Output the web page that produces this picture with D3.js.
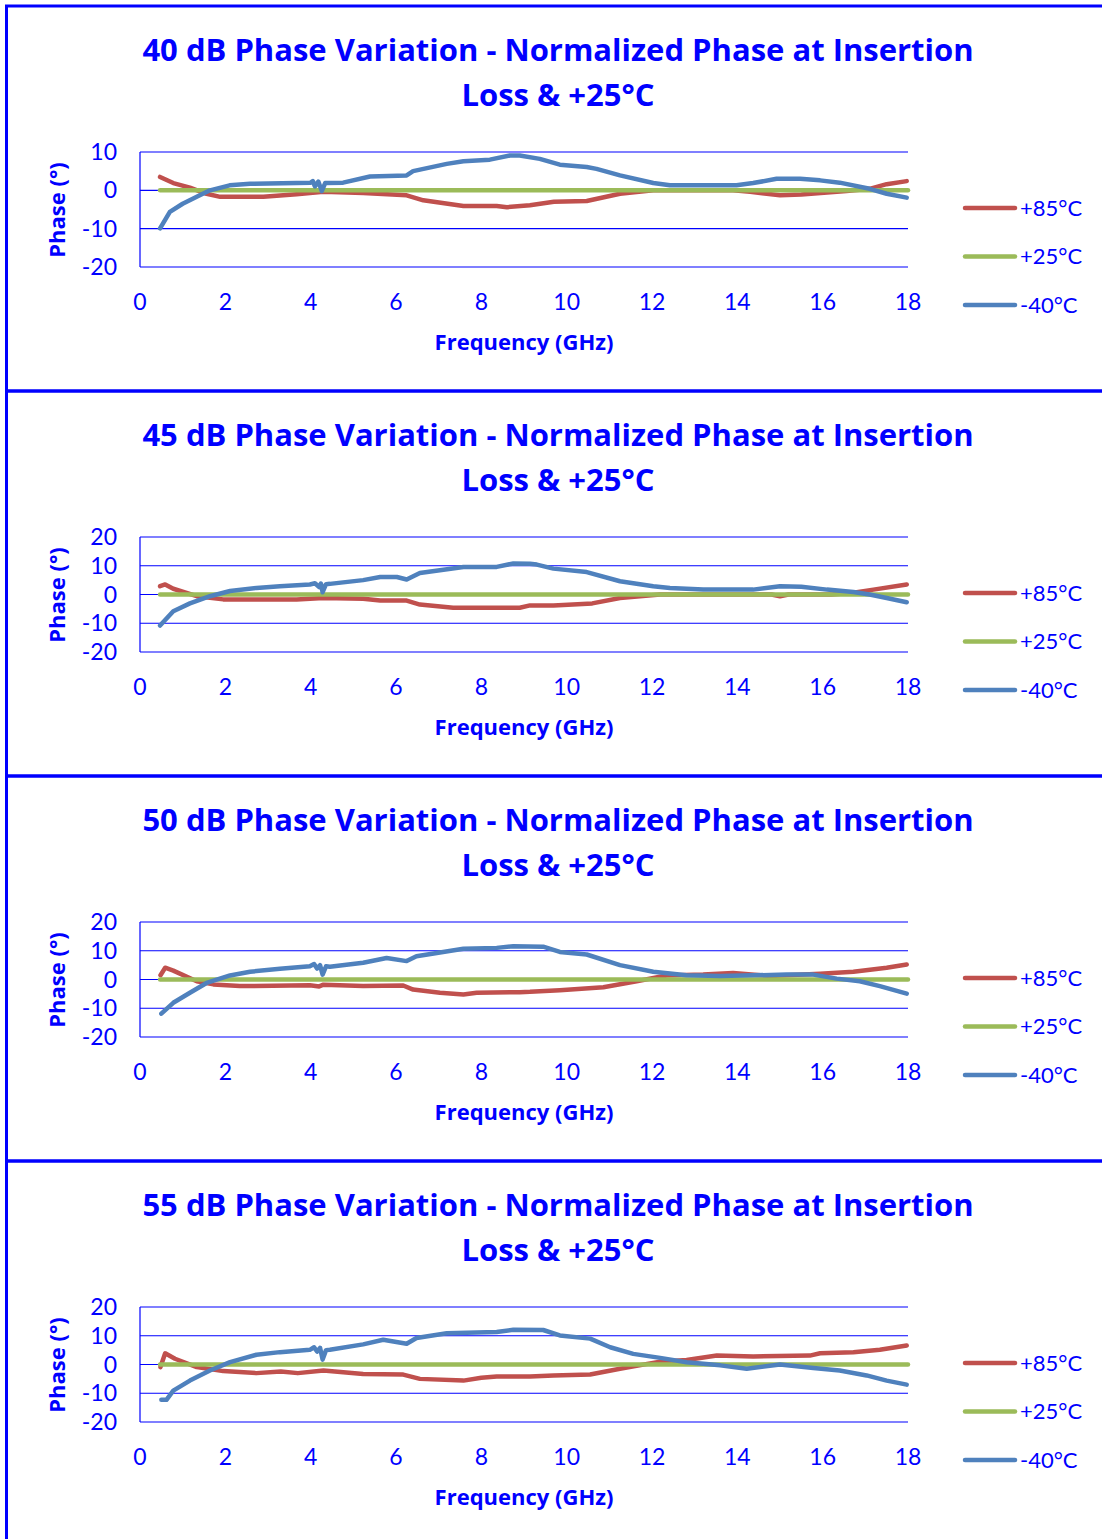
<!DOCTYPE html>
<html>
<head>
<meta charset="utf-8">
<script src="https://d3js.org/d3.v7.min.js"></script>
<style>
  body { margin: 0; background: #fff; }
  svg { display: block; }
</style>
</head>
<body>
<svg id="chart" width="1102" height="1539"></svg>
<script>
// Values (frequency in GHz, phase in degrees)
const titles = ['40 dB', '45 dB', '50 dB', '55 dB'];
const xTicks = [0, 2, 4, 6, 8, 10, 12, 14, 16, 18];
const yTicks40 = [-20, -10, 0, 10];
const yTicksOther = [-20, -10, 0, 10, 20];
const legendNames = ['+85°C', '+25°C', '-40°C'];

const ref25 = [[0.47, 0], [18, 0]];

const hot40 = [[0.47,3.5],[0.78,1.9],[1.17,0.7],[1.56,-0.9],[1.88,-1.7],[2.89,-1.7],[3.67,-1.0],[4.3,-0.4],[5.23,-0.7],[6.25,-1.3],[6.64,-2.6],[7.58,-4.1],[8.36,-4.1],[8.6,-4.4],[9.14,-3.9],[9.7,-3.0],[10.47,-2.8],[11.25,-0.9],[12.03,0],[13.9,0],[14.3,-0.4],[15.0,-1.3],[15.5,-1.1],[16.56,-0.2],[17.1,0.4],[17.5,1.6],[17.97,2.4]];
const cold40 = [[0.47,-9.9],[0.7,-5.6],[1.0,-3.5],[1.33,-1.7],[1.64,0],[2.1,1.3],[2.58,1.7],[4.0,2.0],[4.05,2.4],[4.1,1.0],[4.18,2.3],[4.26,-0.2],[4.34,1.9],[4.76,2.0],[5.39,3.6],[6.25,3.9],[6.4,5.0],[7.19,6.9],[7.58,7.6],[8.2,8.0],[8.67,9.1],[8.9,9.1],[9.37,8.2],[9.84,6.7],[10.47,6.1],[10.7,5.6],[11.25,3.9],[12.03,1.9],[12.42,1.3],[13.98,1.3],[14.37,1.9],[14.92,3.0],[15.47,3.0],[15.94,2.6],[16.4,2.0],[17.1,0.4],[17.5,-0.9],[17.97,-1.9]];

const hot45 = [[0.47,2.9],[0.59,3.5],[0.78,2.0],[1.33,-0.6],[1.95,-1.7],[3.67,-1.7],[4.3,-1.2],[5.23,-1.5],[5.63,-2.1],[6.25,-2.1],[6.56,-3.5],[7.34,-4.6],[8.9,-4.6],[9.14,-3.8],[9.69,-3.8],[10.6,-3.1],[11.25,-1.2],[12.19,0],[14.8,0],[15.0,-0.6],[15.2,0],[16.2,0],[16.72,0.6],[17.19,1.7],[17.97,3.5]];
const cold45 = [[0.47,-10.8],[0.78,-5.8],[1.17,-3.1],[1.64,-0.6],[2.11,1.2],[2.73,2.3],[3.28,2.9],[3.98,3.5],[4.1,3.9],[4.2,2.6],[4.24,3.8],[4.28,0.8],[4.36,3.6],[4.45,3.7],[5.23,5.0],[5.63,6.1],[6.02,6.1],[6.25,5.2],[6.56,7.5],[7.58,9.6],[8.36,9.6],[8.75,10.8],[9.14,10.7],[9.3,10.4],[9.69,9.0],[10.47,7.8],[11.25,4.6],[12.03,2.9],[12.42,2.3],[13.2,1.7],[14.37,1.7],[15.0,2.9],[15.5,2.7],[16.1,1.7],[16.72,0.9],[17.1,0],[17.5,-1.2],[17.97,-2.7]];

const hot50 = [[0.48,1.5],[0.59,4.1],[0.78,3.1],[1.33,-0.6],[1.72,-1.7],[2.34,-2.3],[3.98,-2.0],[4.2,-2.4],[4.3,-1.8],[5.23,-2.3],[6.17,-2.1],[6.4,-3.5],[7.03,-4.6],[7.58,-5.2],[7.89,-4.6],[8.9,-4.4],[9.14,-4.3],[9.84,-3.7],[10.86,-2.7],[11.64,-0.6],[12.34,1.4],[13.2,1.7],[13.9,2.3],[14.77,1.2],[15.94,2.0],[16.72,2.7],[17.5,4.1],[17.97,5.2]];
const cold50 = [[0.5,-11.9],[0.78,-8.1],[1.17,-4.6],[1.56,-1.2],[2.11,1.4],[2.58,2.7],[3.28,3.7],[3.98,4.6],[4.08,5.4],[4.15,3.8],[4.22,5.0],[4.28,1.7],[4.36,4.6],[4.45,4.4],[5.23,5.8],[5.78,7.5],[6.25,6.4],[6.48,8.1],[7.58,10.7],[8.36,11.0],[8.75,11.6],[9.45,11.4],[9.84,9.6],[10.47,8.7],[11.25,5.0],[12.03,2.7],[12.81,1.5],[13.6,1.2],[15.16,1.7],[15.78,1.7],[16.33,0.3],[16.87,-0.6],[17.34,-2.3],[17.97,-4.9]];

const hot55 = [[0.48,-0.9],[0.59,3.9],[0.82,2.0],[1.33,-0.9],[1.95,-2.3],[2.73,-3.0],[3.3,-2.4],[3.7,-3.0],[4.3,-2.1],[5.23,-3.3],[6.17,-3.5],[6.56,-5.0],[7.58,-5.6],[8.0,-4.6],[8.36,-4.2],[9.14,-4.2],[9.69,-3.8],[10.55,-3.5],[11.25,-1.5],[12.19,1.0],[12.81,1.6],[13.52,3.1],[14.37,2.8],[15.7,3.1],[15.94,3.9],[16.72,4.3],[17.34,5.1],[17.97,6.6]];
const cold55 = [[0.5,-12.3],[0.62,-12.3],[0.78,-9.1],[1.17,-5.6],[1.64,-2.1],[2.11,0.8],[2.73,3.4],[3.28,4.3],[3.98,5.1],[4.08,6.0],[4.15,4.5],[4.22,5.8],[4.28,1.7],[4.36,5.0],[4.45,5.1],[5.23,7.0],[5.7,8.6],[6.25,7.2],[6.48,9.2],[7.19,10.9],[8.36,11.3],[8.75,12.1],[9.45,12.0],[9.84,10.1],[10.55,9.0],[11.02,6.0],[11.56,3.7],[12.19,2.3],[12.81,0.8],[13.6,-0.3],[14.22,-1.5],[15.0,0],[15.78,-1.2],[16.4,-2.1],[17.03,-3.8],[17.5,-5.6],[17.97,-7.0]];

const colors = ['#C0504D', '#9BBB59', '#4F81BD'];
const blue = '#0000ff';
const font = 'Lato, "Open Sans", sans-serif';
const boldFont = '"Open Sans", Lato, sans-serif';

const panels = [
  { title: titles[0], yDomain: [-20, 10], yTicks: yTicks40, series: [hot40, ref25, cold40] },
  { title: titles[1], yDomain: [-20, 20], yTicks: yTicksOther, series: [hot45, ref25, cold45] },
  { title: titles[2], yDomain: [-20, 20], yTicks: yTicksOther, series: [hot50, ref25, cold50] },
  { title: titles[3], yDomain: [-20, 20], yTicks: yTicksOther, series: [hot55, ref25, cold55] }
];

const svg = d3.select('#chart');
const panelH = 385;
const plot = { left: 140, right: 908, top: 146, bottom: 261 };

const x = d3.scaleLinear().domain([0, 18]).range([plot.left, plot.right]);

function drawPanel(g, p) {
  const y = d3.scaleLinear().domain(p.yDomain).range([plot.bottom, plot.top]);

  // frame of the panel
  g.append('rect')
    .attr('x', 6.5).attr('y', 0)
    .attr('width', 1110).attr('height', panelH)
    .attr('fill', 'none')
    .attr('stroke', blue)
    .attr('stroke-width', 3);

  // title
  const t = g.append('text')
    .attr('text-anchor', 'middle')
    .attr('fill', blue)
    .style('font-family', boldFont)
    .style('font-weight', 'bold')
    .style('font-size', '31px');
  t.append('tspan').attr('x', 558).attr('y', 55)
    .text(p.title + ' Phase Variation - Normalized Phase at Insertion');
  t.append('tspan').attr('x', 558).attr('y', 100)
    .text('Loss & +25°C');

  // gridlines
  g.append('g')
    .selectAll('line')
    .data(p.yTicks)
    .join('line')
    .attr('x1', plot.left).attr('x2', plot.right)
    .attr('y1', d => y(d)).attr('y2', d => y(d))
    .attr('stroke', blue)
    .attr('stroke-width', 1.2);

  // vertical axis line
  g.append('line')
    .attr('x1', plot.left).attr('x2', plot.left)
    .attr('y1', plot.top).attr('y2', plot.bottom)
    .attr('stroke', blue)
    .attr('stroke-width', 1.2);

  // y tick labels
  g.append('g')
    .selectAll('text')
    .data(p.yTicks)
    .join('text')
    .attr('x', 117)
    .attr('y', d => y(d) + 8)
    .attr('text-anchor', 'end')
    .attr('fill', blue)
    .style('font-family', font)
    .style('font-size', '23px')
    .text(d => d);

  // x tick labels
  g.append('g')
    .selectAll('text')
    .data(xTicks)
    .join('text')
    .attr('x', d => x(d))
    .attr('y', 304)
    .attr('text-anchor', 'middle')
    .attr('fill', blue)
    .style('font-family', font)
    .style('font-size', '23px')
    .text(d => d);

  // axis titles
  g.append('text')
    .attr('x', 524).attr('y', 344)
    .attr('text-anchor', 'middle')
    .attr('fill', blue)
    .style('font-family', boldFont)
    .style('font-weight', 'bold')
    .style('font-size', '22px')
    .text('Frequency (GHz)');

  g.append('text')
    .attr('transform', 'translate(65,204) rotate(-90)')
    .attr('text-anchor', 'middle')
    .attr('fill', blue)
    .style('font-family', boldFont)
    .style('font-weight', 'bold')
    .style('font-size', '22px')
    .text('Phase (°)');

  // series
  const line = d3.line().x(d => x(d[0])).y(d => y(d[1]));
  p.series.forEach((s, i) => {
    g.append('path')
      .datum(s)
      .attr('fill', 'none')
      .attr('stroke', colors[i])
      .attr('stroke-width', 4.5)
      .attr('stroke-linejoin', 'round')
      .attr('stroke-linecap', 'round')
      .attr('d', line);
  });

  // legend
  legendNames.forEach((name, i) => {
    const ly = 202 + i * 48.5;
    g.append('line')
      .attr('x1', 965).attr('x2', 1015)
      .attr('y1', ly).attr('y2', ly)
      .attr('stroke', colors[i])
      .attr('stroke-width', 4.5)
      .attr('stroke-linecap', 'round');
    g.append('text')
      .attr('x', 1020).attr('y', ly + 7.5)
      .attr('fill', blue)
      .style('font-family', font)
      .style('font-size', '22px')
      .text(name);
  });
}

panels.forEach((p, i) => {
  const g = svg.append('g').attr('transform', `translate(0,${6 + i * panelH})`);
  drawPanel(g, p);
});
</script>
</body>
</html>
